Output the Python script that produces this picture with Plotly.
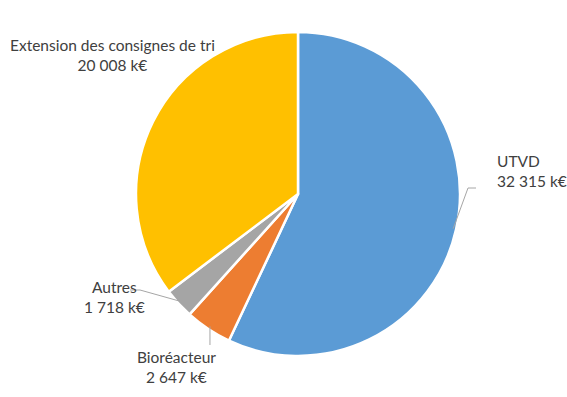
import plotly.graph_objects as go
import math

categories = ["UTVD", "Bioréacteur", "Autres", "Extension des consignes de tri"]
values = [32315, 2647, 1718, 20008]
value_labels = ["32 315 k€", "2 647 k€", "1 718 k€", "20 008 k€"]
colors = ["#5B9BD5", "#ED7D31", "#A5A5A5", "#FFC000"]

W, H = 567, 397
cx, cy, R = 298, 194, 162

fig = go.Figure(go.Pie(
    labels=categories, values=values, sort=False, direction="clockwise",
    rotation=0, textinfo="none", hoverinfo="label+value",
    marker=dict(colors=colors, line=dict(color="white", width=2.5)),
    domain=dict(x=[(cx - R) / W, (cx + R) / W], y=[1 - (cy + R) / H, 1 - (cy - R) / H]),
    showlegend=False,
))

total = sum(values)
mids = []
acc = 0
for v in values:
    mids.append((acc + v / 2) / total * 360)
    acc += v

def edge(i, r=R):
    a = math.radians(mids[i])
    return cx + r * math.sin(a), cy - r * math.cos(a)

def px(x, y):
    return x / W, 1 - y / H

shapes = []
def path(pts):
    d = "M " + " L ".join(f"{px(x,y)[0]},{px(x,y)[1]}" for x, y in pts)
    shapes.append(dict(type="path", path=d, xref="paper", yref="paper",
                       line=dict(color="#A6A6A6", width=1)))

# leader lines
x0, y0 = edge(0, R - 3)
path([(x0, y0), (468, 188), (476, 188)])
x1, y1 = edge(1, R - 3)
path([(x1, y1), (x1, 345)])
x2, y2 = edge(2, R - 3)
path([(x2, y2), (140, 290), (130, 290)])

font = dict(family="Lato, Calibri, sans-serif", size=15.5, color="#404040")
ann = []
def label(i, x, y, align, xanchor):
    xx, yy = px(x, y)
    ann.append(dict(text=f"{categories[i]}<br>{value_labels[i]}", x=xx, y=yy,
                    xref="paper", yref="paper", showarrow=False, align=align,
                    xanchor=xanchor, yanchor="middle", font=font))

label(0, 495, 171, "left", "left")
label(1, 176, 367, "center", "center")
label(2, 114, 297, "center", "center")
label(3, 112, 55, "center", "center")

fig.update_layout(width=W, height=H, margin=dict(l=0, r=0, t=0, b=0),
                  paper_bgcolor="white", plot_bgcolor="white",
                  shapes=shapes, annotations=ann)
fig.write_html("out.html", config={"displayModeBar": False},
               post_script="document.body.style.margin='0';")
